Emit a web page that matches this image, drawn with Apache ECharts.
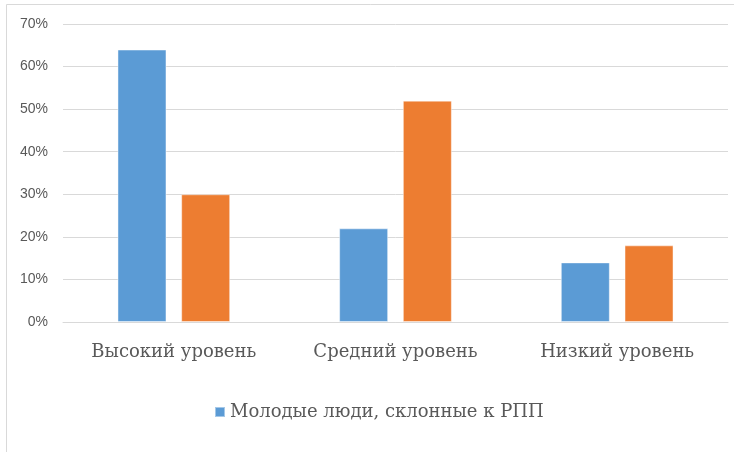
<!DOCTYPE html>
<html><head><meta charset="utf-8">
<script src="https://cdn.jsdelivr.net/npm/echarts@6/dist/echarts.min.js"></script>
<style>html,body{margin:0;padding:0;background:#fff}#c{width:734px;height:452px}</style>
</head><body><div id="c"></div>
<script>
const categories = ['Высокий уровень', 'Средний уровень', 'Низкий уровень'];
const seriesNames = ['Молодые люди, склонные к РПП', 'Молодые люди, не склонные к РПП'];
const seriesA = [64, 22, 14];
const seriesB = [30, 52, 18];
const yTicks = [0, 10, 20, 30, 40, 50, 60, 70];

const chart = echarts.init(document.getElementById('c'), null, {renderer: 'canvas'});
chart.setOption({
  animation: false,
  backgroundColor: '#fff',
  graphic: [{
    type: 'rect', shape: {x: 6.5, y: 4.5, width: 800, height: 600},
    style: {fill: 'none', stroke: '#d9d9d9', lineWidth: 1}, silent: true
  }],
  grid: {left: 63, right: 6, top: 24, bottom: 130},
  legend: {
    data: [seriesNames[0]], top: 398, left: 209,
    itemWidth: 10, itemHeight: 10, itemGap: 10,
    icon: 'rect',
    textStyle: {fontFamily: 'DejaVu Serif', fontSize: 18, color: '#595959', padding: [0,0,0,0]}
  },
  xAxis: {
    type: 'category', data: categories,
    axisLine: {lineStyle: {color: '#d9d9d9'}},
    axisTick: {show: false},
    axisLabel: {fontFamily: 'DejaVu Serif', fontSize: 18, color: '#595959', margin: 21}
  },
  yAxis: {
    type: 'value', min: 0, max: yTicks[yTicks.length-1], interval: 10,
    axisLine: {show: false}, axisTick: {show: false},
    splitLine: {lineStyle: {color: '#d9d9d9'}},
    axisLabel: {formatter: v => v + '%', fontFamily: 'Liberation Sans', fontSize: 14, color: '#595959', margin: 15}
  },
  series: [
    {name: seriesNames[0], type: 'bar', data: seriesA, barWidth: 49, barGap: '30%',
     itemStyle: {color: '#5b9bd5', borderColor: 'rgba(255,255,255,0.45)', borderWidth: 1}},
    {name: seriesNames[1], type: 'bar', data: seriesB, barWidth: 49, barGap: '30%',
     itemStyle: {color: '#ed7d31', borderColor: 'rgba(255,255,255,0.45)', borderWidth: 1}}
  ]
});
</script></body></html>
